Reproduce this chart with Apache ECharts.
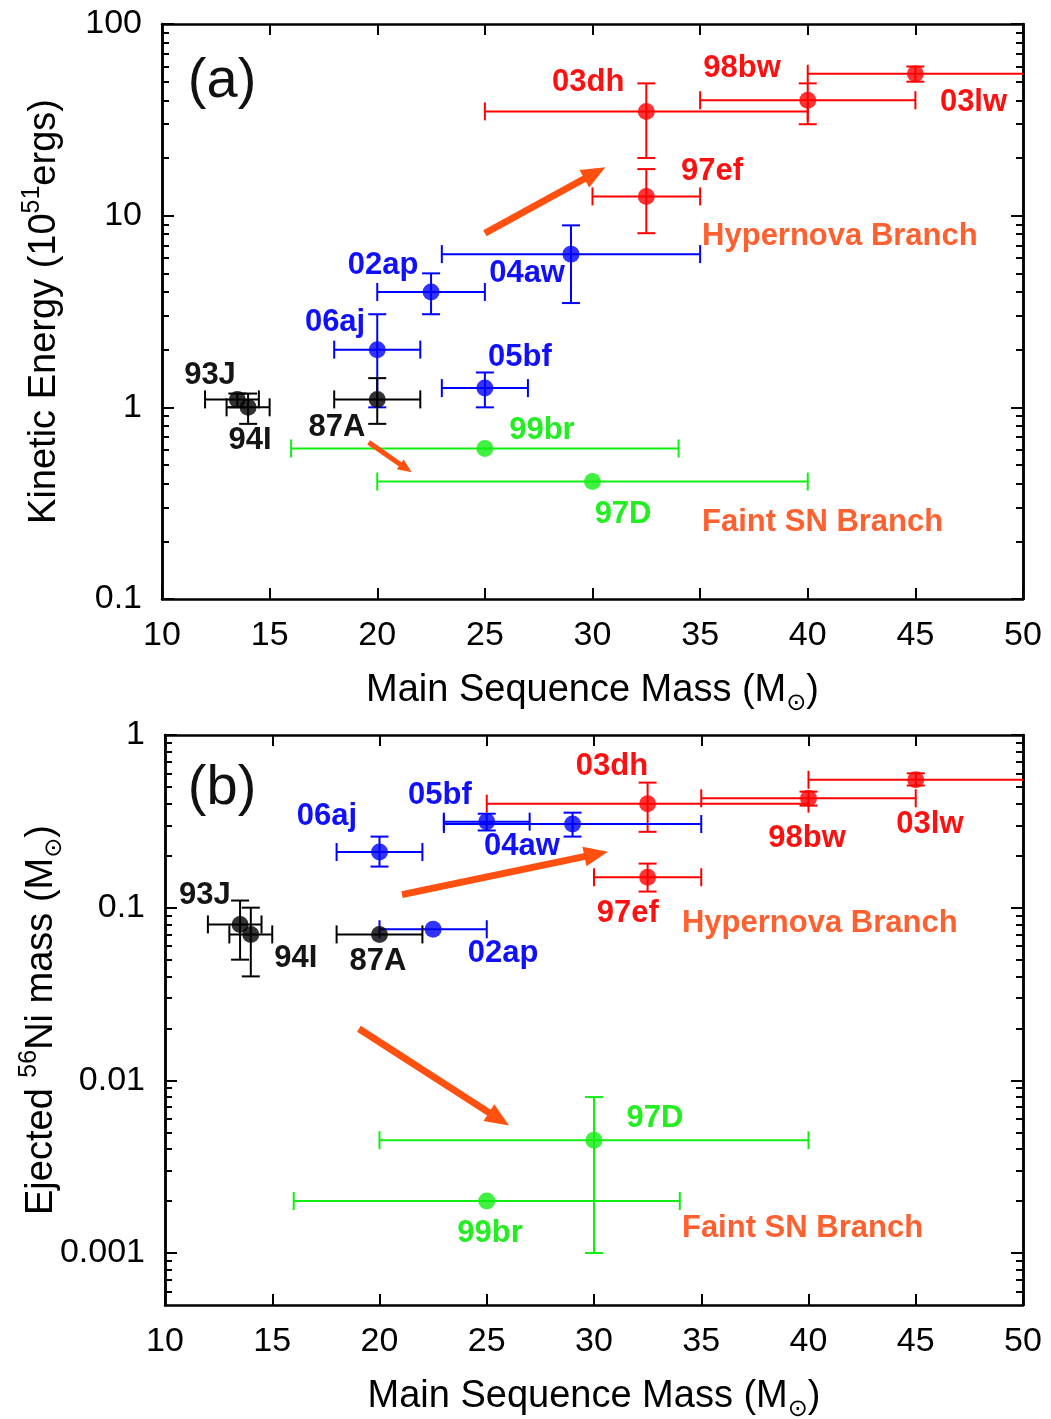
<!DOCTYPE html>
<html><head><meta charset="utf-8">
<script src="https://cdn.jsdelivr.net/npm/echarts@6/dist/echarts.min.js"></script>
<style>html,body{margin:0;padding:0;background:#fff}#c{width:1051px;height:1419px}</style>
</head><body><div id="c"></div><script>
// ---------- data ----------
const snNames  = ['03dh','98bw','03lw','97ef','04aw','02ap','06aj','05bf','87A','93J','94I','99br','97D'];
const snGroup  = ['red','red','red','red','blue','blue','blue','blue','black','black','black','green','green'];
const mass     = [32.5, 40, 45, 32.5, 29, 22.5, 20, 25, 20, 13.5, 14, 25, 30];
const massLo   = [25, 35, 40, 30, 23, 20, 18, 23, 18, 12, 13, 16, 20];
const massHi   = [40, 45, 55, 35, 35, 25, 22, 27, 22, 14.5, 15, 34, 40];
const energy   = [35, 40, 55, 12.6, 6.3, 4.0, 2.0, 1.26, 1.1, 1.1, 1.0, 0.61, 0.41];
const energyLo = [20, 30, 50, 8.1, 3.5, 3.06, 1.0, 1.0, 0.82, 1.0, 0.82, null, null];
const energyHi = [49, 49, 60, 17.5, 8.9, 5.0, 3.06, 1.52, 1.42, 1.18, 1.18, null, null];
const nickel   = [0.40, 0.43, 0.55, 0.15, 0.305, 0.075, 0.21, 0.315, 0.07, 0.08, 0.07, 0.002, 0.0045];
const nickelLo = [0.275, 0.39, 0.51, 0.124, 0.258, null, 0.173, 0.28, null, 0.05, 0.04, null, 0.001];
const nickelHi = [0.53, 0.47, 0.60, 0.18, 0.355, null, 0.258, 0.35, null, 0.11, 0.10, null, 0.008];

// annotation texts and their anchor positions (data units)
const labelTextA = ['03dh','98bw','03lw','97ef','02ap','04aw','06aj','05bf','93J','94I','87A','99br','97D','Hypernova Branch','Faint SN Branch','(a)'];
const labelXA    = [29.8, 36.95, 47.7, 35.55, 20.27, 26.96, 18.04, 26.63, 12.23, 14.09, 18.13, 27.65, 31.42, 35.09, 35.09, 12.79];
const labelYA    = [49.8, 58.9, 39.2, 17.1, 5.51, 5.0, 2.78, 1.82, 1.47, 0.672, 0.787, 0.758, 0.276, 7.82, 0.251, 49.8];
const labelTextB = ['03dh','05bf','06aj','04aw','98bw','03lw','97ef','93J','94I','87A','02ap','97D','99br','Hypernova Branch','Faint SN Branch','(b)'];
const labelXB    = [30.84, 22.82, 17.55, 26.64, 39.93, 45.66, 31.58, 11.86, 16.1, 19.93, 25.76, 32.84, 25.15, 34.1, 34.1, 12.66];
const labelYB    = [0.655, 0.446, 0.337, 0.225, 0.251, 0.303, 0.0923, 0.117, 0.0507, 0.0487, 0.0542, 0.006, 0.00129, 0.0808, 0.00138, 0.489];
const labelKindA = ['red','red','red','red','blue','blue','blue','blue','black','black','black','green','green','branch','branch','panel'];
const labelKindB = ['red','blue','blue','blue','red','red','red','black','black','black','blue','green','green','branch','branch','panel'];

// arrows: [x0, y0, x1, y1]
const arrowsA = [[25, 8.1, 30.6, 17.9], [19.6, 0.656, 21.6, 0.458]];
const arrowsB = [[21.05, 0.119, 30.65, 0.211], [19.04, 0.0199, 26.04, 0.00547]];

const xTicks  = [10, 15, 20, 25, 30, 35, 40, 45, 50];
const yTicksA = [0.1, 1, 10, 100];
const yTicksB = [0.001, 0.01, 0.1, 1];

// ---------- styles ----------
const FONT = "'Liberation Sans', Arial, Helvetica, sans-serif";
const palette = {red:'#ff0000', blue:'#0000ff', black:'#000000', green:'#11ee11'};
const textCol = {red:'#ff1010', blue:'#1010ff', black:'#151515', green:'#22ee22', branch:'#ff6030', panel:'#111111'};
const arrowCol = '#ff5010';

function minorTicks(lo, hi) {
  const out = [];
  for (let d = lo; d < hi * 0.99; d *= 10) for (let k = 2; k <= 9; k++) out.push(+(k * d).toPrecision(3));
  return out;
}
const minorA = minorTicks(0.1, 100);
const minorB = minorTicks(0.0001, 1).filter(v => v > 0.0005);

function errRender(groupArr) {
  return function (params, api) {
    const col = palette[groupArr[params.dataIndex]];
    const x = api.value(0), y = api.value(1), xl = api.value(2), xh = api.value(3), yl = api.value(4), yh = api.value(5);
    const c = api.coord([x, y]);
    const ch = [];
    const st = {stroke: col, lineWidth: 2};
    const cap = 9;
    if (isFinite(xl) && isFinite(xh)) {
      const a = api.coord([xl, y]), b = api.coord([xh, y]);
      ch.push({type:'line', shape:{x1:a[0], y1:c[1], x2:b[0], y2:c[1]}, style:st});
      ch.push({type:'line', shape:{x1:a[0], y1:c[1]-cap, x2:a[0], y2:c[1]+cap}, style:st});
      ch.push({type:'line', shape:{x1:b[0], y1:c[1]-cap, x2:b[0], y2:c[1]+cap}, style:st});
    }
    if (isFinite(yl) && isFinite(yh) && yl > 0 && yh > 0) {
      const a = api.coord([x, yl]), b = api.coord([x, yh]);
      ch.push({type:'line', shape:{x1:c[0], y1:a[1], x2:c[0], y2:b[1]}, style:st});
      ch.push({type:'line', shape:{x1:c[0]-cap, y1:a[1], x2:c[0]+cap, y2:a[1]}, style:st});
      ch.push({type:'line', shape:{x1:c[0]-cap, y1:b[1], x2:c[0]+cap, y2:b[1]}, style:st});
    }
    return {type:'group', children: ch};
  };
}

function arrowRender(params, api) {
  const p0 = api.coord([api.value(0), api.value(1)]);
  const p1 = api.coord([api.value(2), api.value(3)]);
  const dx = p1[0]-p0[0], dy = p1[1]-p0[1], L = Math.hypot(dx, dy);
  const ux = dx/L, uy = dy/L, nx = -uy, ny = ux;
  const small = L < 90;
  const hl = small ? 14 : 24, hw = small ? 6 : 10, lw = small ? 5 : 7;
  const bx = p1[0]-ux*hl, by = p1[1]-uy*hl;
  return {type:'group', children:[
    {type:'line', shape:{x1:p0[0], y1:p0[1], x2:bx+ux*2, y2:by+uy*2}, style:{stroke:arrowCol, lineWidth:lw}},
    {type:'polygon', shape:{points:[[p1[0],p1[1]],[bx+nx*hw, by+ny*hw],[bx-nx*hw, by-ny*hw]]}, style:{fill:arrowCol}}
  ]};
}

function labelRender(texts, kinds) {
  return function (params, api) {
    const i = params.dataIndex;
    const p = api.coord([api.value(0), api.value(1)]);
    const k = kinds[i];
    let size = 31, weight = 'bold', align = 'center';
    if (k === 'branch') { align = 'left'; }
    if (k === 'panel') { size = 56; weight = 'normal'; }
    return {type:'text', x:p[0], y:p[1], style:{text:texts[i], fill:textCol[k], fontSize:size, fontWeight:weight, fontFamily:FONT, align:align, verticalAlign:'middle'}};
  };
}

const axisLineStyle = {color:'#000', width:2.5};
function xAxisDef(grid, pos, withLabel) {
  return {
    gridIndex: grid, type:'value', position: pos, min: xTicks[0], max: xTicks[xTicks.length-1], interval: xTicks[1]-xTicks[0],
    axisLine:{show:true, onZero:false, lineStyle:axisLineStyle},
    axisTick:{show:true, inside:true, length:11, lineStyle:{color:'#000', width:2}},
    axisLabel:{show:withLabel, color:'#000', fontSize:34, fontFamily:FONT, margin:20},
    splitLine:{show:false},
    name: withLabel ? '{n|Main Sequence Mass (M}{sub|\u2299}{n|)}' : '',
    nameLocation:'middle', nameGap: 67, nameMoveOverlap:false,
    nameTextStyle:{rich:{
      n:{fontSize:38, fontFamily:FONT, color:'#000', lineHeight:50},
      sub:{fontSize:24, fontFamily:'DejaVu Sans', color:'#000', lineHeight:24, verticalAlign:'bottom'}
    }}
  };
}
function yAxisDef(grid, pos, ticks, min, max, withLabel, isMinor, name, gap) {
  return {
    gridIndex: grid, type:'log', logBase:10, position: pos, min: min, max: max,
    axisLine:{show:true, onZero:false, lineStyle:axisLineStyle},
    axisTick:{show:true, inside:true, length: isMinor ? 7 : 12, customValues: ticks, lineStyle:{color:'#000', width:2}},
    axisLabel:{show:withLabel, customValues: ticks, color:'#000', fontSize:34, fontFamily:FONT, margin:20, formatter: v => String(+v.toPrecision(6))},
    splitLine:{show:false}, minorTick:{show:false},
    name: name || '', nameLocation:'middle', nameRotate:90, nameGap: gap || 0, nameMoveOverlap:false,
    nameTextStyle:{rich:{
      n:{fontSize:38, fontFamily:FONT, color:'#000', lineHeight:50},
      sup:{fontSize:25, fontFamily:FONT, color:'#000', lineHeight:28, verticalAlign:'top'},
      sub:{fontSize:24, fontFamily:'DejaVu Sans', color:'#000', lineHeight:24, verticalAlign:'bottom'}
    }}
  };
}

const errDataA = mass.map((m, i) => [m, energy[i], massLo[i], massHi[i], energyLo[i], energyHi[i]]);
const errDataB = mass.map((m, i) => [m, nickel[i], massLo[i], massHi[i], nickelLo[i], nickelHi[i]]);
const ptsA = mass.map((m, i) => ({value:[m, energy[i]], itemStyle:{color: palette[snGroup[i]]}}));
const ptsB = mass.map((m, i) => ({value:[m, nickel[i]], itemStyle:{color: palette[snGroup[i]]}}));

const option = {
  animation:false,
  backgroundColor:'#fff',
  grid:[
    {left:162, top:24, width:861, height:575, outerBoundsMode:'none', containLabel:false},
    {left:165, top:735, width:858, height:570, outerBoundsMode:'none', containLabel:false}
  ],
  xAxis:[xAxisDef(0,'bottom',true), xAxisDef(0,'top',false), xAxisDef(1,'bottom',true), xAxisDef(1,'top',false)],
  yAxis:[
    yAxisDef(0,'left', yTicksA, 0.1, 100, true, false, '{n|Kinetic Energy (10}{sup|51}{n|ergs)}', 92),
    yAxisDef(0,'left', minorA, 0.1, 100, false, true),
    yAxisDef(0,'right', yTicksA, 0.1, 100, false, false),
    yAxisDef(0,'right', minorA, 0.1, 100, false, true),
    yAxisDef(1,'left', yTicksB, 0.0005, 1, true, false, '{n|Ejected }{sup|56}{n|Ni mass (M}{sub|\u2299}{n|)}', 98),
    yAxisDef(1,'left', minorB, 0.0005, 1, false, true),
    yAxisDef(1,'right', yTicksB, 0.0005, 1, false, false),
    yAxisDef(1,'right', minorB, 0.0005, 1, false, true)
  ],
  series:[
    {type:'custom', coordinateSystem:'cartesian2d', xAxisIndex:0, yAxisIndex:0, clip:true, silent:true, z:2,
     renderItem: errRender(snGroup), data: errDataA},
    {type:'scatter', xAxisIndex:0, yAxisIndex:0, symbol:'circle', symbolSize:17, silent:true, z:3, data: ptsA},
    {type:'custom', coordinateSystem:'cartesian2d', xAxisIndex:0, yAxisIndex:0, silent:true, z:4,
     renderItem: arrowRender, data: arrowsA},
    {type:'custom', coordinateSystem:'cartesian2d', xAxisIndex:0, yAxisIndex:0, silent:true, z:5,
     renderItem: labelRender(labelTextA, labelKindA), data: labelXA.map((x, i) => [x, labelYA[i]])},

    {type:'custom', coordinateSystem:'cartesian2d', xAxisIndex:2, yAxisIndex:4, clip:true, silent:true, z:2,
     renderItem: errRender(snGroup), data: errDataB},
    {type:'scatter', xAxisIndex:2, yAxisIndex:4, symbol:'circle', symbolSize:17, silent:true, z:3, data: ptsB},
    {type:'custom', coordinateSystem:'cartesian2d', xAxisIndex:2, yAxisIndex:4, silent:true, z:4,
     renderItem: arrowRender, data: arrowsB},
    {type:'custom', coordinateSystem:'cartesian2d', xAxisIndex:2, yAxisIndex:4, silent:true, z:5,
     renderItem: labelRender(labelTextB, labelKindB), data: labelXB.map((x, i) => [x, labelYB[i]])}
  ]
};
const chart = echarts.init(document.getElementById('c'), null, {renderer:'canvas'});
chart.setOption(option);
</script></body></html>
